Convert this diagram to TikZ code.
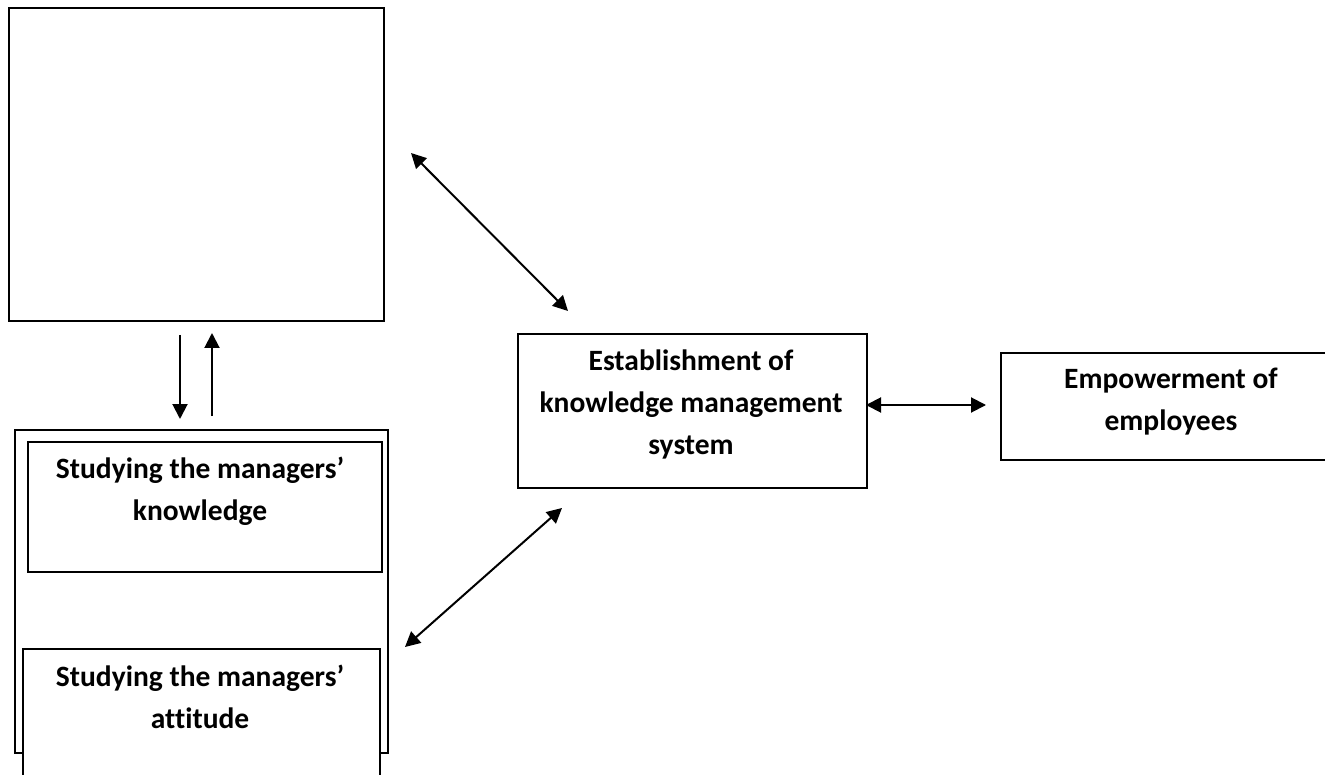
\documentclass[tikz,border=0pt]{standalone}
\usepackage{fontspec}
\setmainfont{Carlito}[Ligatures=NoCommon]
\usetikzlibrary{arrows.meta}
\begin{document}
\begin{tikzpicture}[x=1pt,y=-1pt,
  box/.style={draw,line width=1.6pt,inner sep=0pt,anchor=north west},
  lbl/.style={font=\fontsize{29.5}{42}\selectfont\bfseries,align=center,inner sep=0pt},
  biarrow/.style={line width=2pt,{Triangle[length=15pt,width=15pt]}-{Triangle[length=15pt,width=15pt]}},
  onearrow/.style={line width=2pt,-{Triangle[length=15pt,width=15pt]}}]
\useasboundingbox (0,0) rectangle (1325,775);
\clip (0,0) rectangle (1325,775);
% boxes
\node[box,minimum width=375pt,minimum height=313pt] (topbox) at (8,7) {};
\node[box,minimum width=373pt,minimum height=323pt] (outer) at (14,429) {};
\node[box,fill=white,minimum width=354pt,minimum height=130pt] (know) at (27,441) {};
\node[box,fill=white,minimum width=357pt,minimum height=160pt] (att) at (22,648) {};
\node[box,minimum width=349pt,minimum height=154pt] (kms) at (517,333) {};
\node[box,minimum width=360pt,minimum height=107pt] (emp) at (1000,352) {};
% texts
\node[lbl] (tknow) at (200,491) {Studying the managers’\\knowledge};
\node[lbl] (tatt) at (200,697) {Studying the managers’\\attitude};
\node[lbl] (tkms) at (691,404) {Establishment of\\knowledge management\\system};
\node[lbl] (temp) at (1171,402) {Empowerment of\\employees};
% arrow end points
\coordinate (d1) at (180,335);
\coordinate (d2) at (180,419);
\coordinate (u1) at (212,416);
\coordinate (u2) at (212,333);
\coordinate (a1) at (411,153);
\coordinate (a2) at (568,311);
\coordinate (b1) at (405,647);
\coordinate (b2) at (562,508);
\coordinate (h1) at (866,405);
\coordinate (h2) at (986,405);
% connectors
\draw[onearrow] (d1) -- (d2);
\draw[onearrow] (u1) -- (u2);
\draw[biarrow] (a1) -- (a2);
\draw[biarrow] (b1) -- (b2);
\draw[biarrow] (h1) -- (h2);
\end{tikzpicture}
\end{document}
